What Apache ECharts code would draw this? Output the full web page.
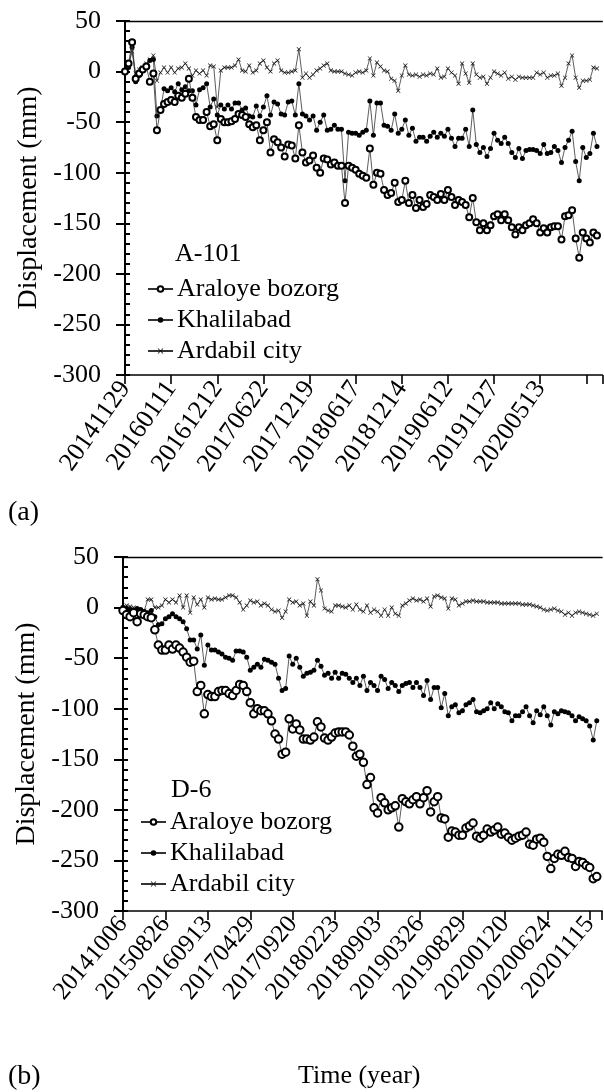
<!DOCTYPE html>
<html><head><meta charset="utf-8">
<script src="https://cdn.jsdelivr.net/npm/echarts@6/dist/echarts.min.js"></script>
<style>html,body{margin:0;padding:0;background:#fff}#c{width:604px;height:1092px}</style>
</head><body><div id="c"></div>
<script>
// ---- tick labels ----
const labelsA = ['20141129','20160111','20161212','20170622','20171219','20180617','20181214','20190612','20191127','20200513'];
const labelsB = ['20141006','20150826','20160913','20170429','20170920','20180223','20180903','20190326','20190829','20200120','20200624','20201115'];
const seriesNames = ['Araloye bozorg','Khalilabad','Ardabil city'];
const stepA = 13, stepB = 12;

// ---- (a) A-101 displacement (mm), one value per acquisition ----
const araloyeA = [0,8,29,-7,-2,2,5,-10,-2,-58,-38,-32,-30,-28,-30,-24,-26,-22,-7,-26,-45,-48,-48,-40,-54,-52,-68,-47,-50,-50,-49,-47,-42,-43,-45,-52,-55,-53,-68,-58,-50,-80,-67,-70,-75,-84,-72,-73,-86,-53,-80,-90,-88,-83,-95,-100,-86,-87,-92,-90,-93,-93,-130,
-93,-95,-97,-101,-103,-105,-76,-112,-100,-101,-117,-122,-120,-110,
-129,-127,-108,-130,-122,-135,-127,-134,-131,-122,-124,-127,-121,-127,-117,-124,-132,-127,-129,-132,-144,-125,-149,-157,-150,-157,-152,-143,-141,-147,-141,-147,-154,-161,-154,-157,-152,-150,-146,-150,-159,-155,-159,-154,-153,-153,-166,-143,-142,-137,-165,-184,-159,-165,-169,-159,-162];
const khalilabadA = [0,4,24,-10,-4,1,4,11,12,-44,-38,-17,-19,-16,-20,-12,-18,-15,-19,-19,-33,-18,-16,-12,-35,-27,-43,-33,-37,-33,-37,-31,-31,-38,-36,-44,-45,-34,-44,-35,-24,-43,-30,-32,-42,-43,-30,-29,-43,-12,-42,-44,-48,-44,-58,-50,-43,-58,-57,-53,-57,-57,-108,-60,
-61,-61,-63,-60,-58,-29,-63,-31,-31,-53,-54,-58,-42,
-61,-57,-48,-63,-56,-69,-65,-65,-69,-64,-60,-65,-61,-64,-57,-66,-74,-66,-66,-57,-74,-38,-72,-80,-75,-84,-76,-61,-68,-71,-65,-71,-80,-85,-76,-86,-78,-77,-77,-78,-81,-72,-81,-80,-74,-78,-90,-75,-68,-59,-89,-108,-75,-85,-81,-61,-74];
const ardabilA = [0,6,20,-2,2,4,8,12,16,-9,-1,4,-1,4,-1,3,4,8,3,-4,1,-2,1,-4,6,5,-35,1,4,4,4,6,12,1,0,6,-1,1,8,11,4,0,8,11,1,-1,-1,0,1,22,-6,-2,-6,-3,1,3,6,8,1,0,0,0,-2,-3,-4,-1,0,-1,1,13,-4,9,5,1,0,-7,-9,
-19,-4,6,-3,-4,-3,-5,-3,-4,-2,-3,3,-6,-5,3,-1,-4,-12,8,-2,-11,8,-3,-6,-5,-12,-6,0,-2,-4,-1,-7,-5,-8,-5,-6,-6,-6,-6,-1,-3,-1,-6,-4,-4,-2,-14,-6,8,16,-6,-16,-9,-9,-8,4,3];

// ---- (b) D-6 displacement (mm) ----
const araloyeB = [-3,-7,-9,-5,-14,-6,-7,-9,-10,-22,-37,-42,-42,-37,-41,-37,-40,-44,-49,-54,-53,-83,-77,-105,-86,-88,-88,-83,-82,-82,-85,-87,-82,-76,-77,-83,-94,-105,-100,-102,-102,-105,-112,-125,-130,-145,-143,-110,-120,-115,-121,-130,-130,-131,-128,-113,-118,-129,-131,-128,-124,-123,-123,-123,-126,-137,-147,-145,-153,-175,-168,-198,-203,-188,-193,-200,-198,
-196,-217,-189,-192,-194,-190,-187,-194,-188,-181,-202,-192,-187,-208,-209,-227,-221,-222,-225,-225,-218,-216,-213,-226,-228,-225,-219,-222,-220,-217,-224,-223,-227,-230,-228,-226,-225,-222,-234,-235,-229,-228,-232,-246,-258,-248,-244,-245,-241,-247,-248,-256,-251,-252,-255,-257,-268,-266];
const khalilabadB = [0,-1,-2,-3,-1,-2,-4,-5,-3,-9,-17,-16,-11,-9,-6,-9,-11,-14,-21,-32,-32,-41,-27,-57,-37,-42,-42,-44,-46,-49,-50,-52,-43,-43,-44,-49,-62,-59,-56,-59,-51,-52,-54,-56,-70,-82,-80,-48,-56,-50,-59,-68,-65,-64,-62,-52,-58,-67,-65,-70,-64,-70,-65,-66,-70,-74,-70,-77,-68,-82,-74,-77,-82,-68,-71,-80,-74,
-77,-83,-77,-75,-74,-79,-74,-79,-87,-72,-91,-79,-79,-99,-85,-107,-98,-96,-104,-102,-96,-94,-91,-103,-104,-102,-100,-94,-100,-95,-98,-103,-104,-112,-107,-107,-103,-98,-107,-114,-102,-106,-98,-107,-116,-103,-105,-102,-103,-104,-107,-112,-108,-110,-112,-117,-131,-112];
const ardabilB = [0,2,1,0,-2,-3,-3,8,8,0,0,2,8,5,8,5,12,0,12,-5,10,3,8,0,10,8,9,8,8,10,12,12,10,5,-2,2,7,5,6,2,4,2,-2,-4,-3,-10,-4,8,5,6,2,4,-8,6,2,28,17,-1,-3,-4,2,2,1,0,2,-2,3,-2,-4,2,-5,-2,-4,-8,-2,-8,0,
-6,-8,2,4,7,9,7,8,6,9,1,11,12,10,9,-1,9,8,2,4,6,6,7,6,6,6,5,5,5,5,4,4,4,4,4,4,3,3,3,2,1,0,-2,-3,-2,-1,-3,-4,-7,-5,-8,-5,-4,-5,-6,-7,-8,-6];

const FONT = 'Liberation Serif';
const pair = arr => arr.map((v, i) => [i, v]);
const crossPath = 'path://M0,1L1,0L5,4L9,0L10,1L6,5L10,9L9,10L5,6L1,10L0,9L4,5Z';

const gridDefs = [{left:125, top:21, width:481, height:354}, {left:123, top:557, width:483, height:354}];
const xMax = [134.5, 135.5];
const steps = [stepA, stepB];
const labs = [labelsA, labelsB];
const labRot = [55, 50], labSize = [26, 25];

const xAxes = [], yAxes = [], series = [];
[0,1].forEach(gi => {
  xAxes.push({
    type:'value', gridIndex:gi, min:0, max:xMax[gi], interval:steps[gi],
    axisLine:{onZero:false, lineStyle:{color:'#000', width:1.6}},
    axisTick:{show:true, length:9, lineStyle:{color:'#000', width:1.6}},
    splitLine:{show:false},
    axisLabel:{rotate:labRot[gi], margin:9, color:'#000', fontFamily:FONT, fontSize:labSize[gi],
      formatter: v => (Math.abs(v/steps[gi] - Math.round(v/steps[gi])) < 1e-6 ? (labs[gi][Math.round(v/steps[gi])] || '') : '')}
  });
  xAxes.push({
    type:'value', gridIndex:gi, position:'top', min:0, max:xMax[gi],
    axisLine:{onZero:false, lineStyle:{color:'#000', width:1.4}},
    axisTick:{show:false}, axisLabel:{show:false}, splitLine:{show:false}
  });
  yAxes.push({
    type:'value', gridIndex:gi, position:'left', min:-300, max:50, interval:50,
    name:'Displacement (mm)', nameLocation:'middle', nameGap:81, nameRotate:90,
    nameTextStyle:{color:'#000', fontFamily:FONT, fontSize:28},
    axisLine:{onZero:false, lineStyle:{color:'#000', width:2}},
    axisTick:{show:true, length:9, lineStyle:{color:'#000', width:2}},
    splitLine:{show:false},
    axisLabel:{margin:24, color:'#000', fontFamily:FONT, fontSize:26}
  });
  yAxes.push({
    type:'value', gridIndex:gi, position:'left', offset:0, min:-300, max:50, interval:50,
    axisLine:{show:false, onZero:false},
    axisTick:{show:true, inside:true, length:5, lineStyle:{color:'#000', width:2}},
    minorTick:{show:true, splitNumber:5, length:5, lineStyle:{color:'#000', width:2}},
    splitLine:{show:false}, axisLabel:{show:false}
  });
});

const dataSets = [[araloyeA, khalilabadA, ardabilA],[araloyeB, khalilabadB, ardabilB]];
const circleSize = [6, 7.5];
[0,1].forEach(gi => {
  const [ar, kh, ad] = dataSets[gi];
  const base = {type:'line', xAxisIndex:gi*2, yAxisIndex:gi*2, animation:false,
    lineStyle:{color:'#333', width:0.8}, emphasis:{disabled:true}};
  series.push(Object.assign({}, base, {name:seriesNames[2], data:pair(ad), symbol:crossPath, symbolSize:4.5,
    itemStyle:{color:'#111'}, z:2}));
  series.push(Object.assign({}, base, {name:seriesNames[1], data:pair(kh), symbol:'circle', symbolSize:5,
    itemStyle:{color:'#000'}, z:3}));
  series.push(Object.assign({}, base, {name:seriesNames[0], data:pair(ar), symbol:'emptyCircle', symbolSize:circleSize[gi],
    itemStyle:{color:'#000', borderColor:'#000', borderWidth:0.9}, z:4}));
});

const tStyle = {color:'#000', fontFamily:FONT, fontSize:26, fontWeight:'normal'};
const legendBase = {orient:'vertical', itemWidth:25, itemHeight:7, itemGap:5, selectedMode:false,
  data:seriesNames, textStyle:{color:'#000', fontFamily:FONT, fontSize:26, padding:[0,0,0,-1]}, padding:0};

const chart = echarts.init(document.getElementById('c'), null, {renderer:'canvas'});
chart.setOption({
  animation:false,
  backgroundColor:'#fff',
  grid:gridDefs,
  xAxis:xAxes, yAxis:yAxes, series:series,
  legend:[Object.assign({}, legendBase, {left:147, top:276}), Object.assign({}, legendBase, {left:140, top:809})],
  title:[
    {text:'A-101', left:175, top:241, padding:0, textStyle:tStyle},
    {text:'D-6', left:171, top:777, padding:0, textStyle:tStyle},
    {text:'(a)', left:8, top:499, padding:0, textStyle:Object.assign({}, tStyle, {fontSize:28})},
    {text:'(b)', left:8, top:1063, padding:0, textStyle:Object.assign({}, tStyle, {fontSize:28})},
    {text:'Time (year)', left:298, top:1063, padding:0, textStyle:tStyle}
  ]
});
</script></body></html>
